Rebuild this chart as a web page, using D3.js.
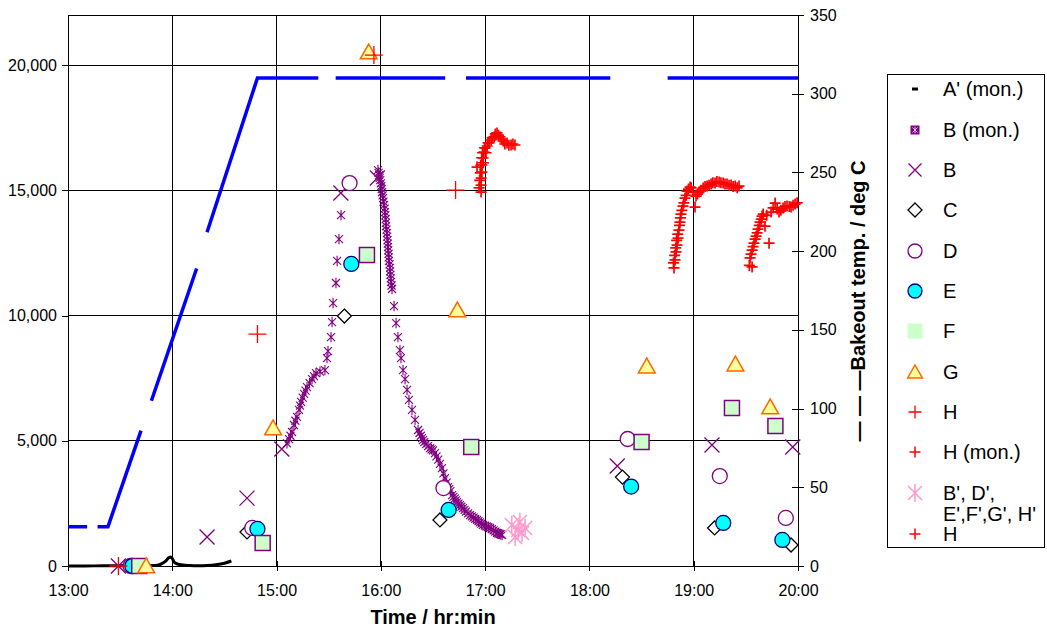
<!DOCTYPE html>
<html>
<head>
<meta charset="utf-8">
<script src="https://cdn.jsdelivr.net/npm/d3@7"></script>
<style>
body { margin: 0; background: #fff; }
svg { display: block; font-family: "Liberation Sans", Arial, sans-serif; }
</style>
</head>
<body>
<svg id="chart" width="1047" height="631"></svg>
<script>

// ---- data (times hh:mm[:ss], left axis = counts, right axis = deg C) ----
var aMonTimes = ["13:00","13:10","13:20","13:30","13:40","13:50","13:53","13:56","13:58","13:59","14:00","14:01","14:03","14:06","14:10","14:15","14:20","14:25","14:30","14:34"];
var aMonValues = [0,0,10,10,20,20,60,180,330,360,300,160,80,40,20,10,20,50,110,200];

var bMonTimes = ["15:06:00","15:07:10","15:08:00","15:08:55","15:10:00","15:10:50","15:11:45","15:12:55","15:13:30","15:14:05",
  "15:15:00","15:15:50","15:16:40","15:17:30","15:19:00","15:20:25","15:21:30","15:22:40","15:25:00",
  "15:27:50","15:29:00","15:29:35","15:31:20","15:31:55","15:32:30","15:34:10","15:34:50","15:35:55","15:37:05",
  "15:58:20","15:58:40","15:59:00","15:59:20","15:59:40","16:00:00","16:00:15","16:00:30","16:00:40","16:01:00",
  "16:01:15","16:01:30","16:01:50","16:02:10","16:02:25","16:02:35","16:02:45","16:02:55","16:03:00","16:03:15",
  "16:03:30","16:03:40","16:03:50","16:04:00","16:04:05","16:04:15","16:04:25","16:04:30","16:04:40","16:05:00",
  "16:05:15","16:05:20","16:05:30","16:05:40","16:05:50","16:06:10","16:06:25",
  "16:07:35","16:08:45","16:09:50","16:11:00","16:11:35","16:12:45","16:13:55","16:15:05","16:16:10","16:17:55","16:19:40",
  "16:21:25","16:22:15","16:23:00","16:23:40","16:24:15","16:25:00","16:26:00","16:27:10","16:28:20","16:29:10",
  "16:30:00","16:31:10","16:32:00","16:33:00","16:34:00","16:35:10","16:36:00","16:36:55","16:37:50","16:38:40",
  "16:39:20","16:40:00","16:41:00","16:41:45","16:42:30","16:43:10","16:43:50","16:44:40","16:45:30","16:46:20",
  "16:47:15","16:48:10","16:49:00","16:50:10","16:51:20","16:52:20","16:53:20","16:54:20","16:55:20","16:56:10",
  "16:57:00","16:57:50","16:58:45","16:59:50","17:00:50","17:01:50","17:02:50","17:03:50","17:04:50","17:05:50",
  "17:06:50","17:07:30","17:08:20","17:09:00","17:09:45"];
var bMonValues = [4900,5070,5200,5350,5630,5800,5950,6230,6400,6550,
  6720,6870,7000,7140,7300,7460,7580,7700,7760,
  7820,8300,8580,9140,9740,10500,11300,12180,13050,14010,
  15810,15700,15610,15500,15410,15280,15170,15050,14930,14800,
  14690,14550,14410,14270,14130,14000,13850,13700,13570,13430,
  13290,13150,13010,12870,12730,12600,12460,12320,12180,12040,
  11900,11760,11620,11480,11340,11200,11060,
  10380,9700,9140,8620,8300,7820,7460,7030,6630,6230,5830,
  5430,5310,5200,5110,5030,4950,4870,4790,4710,4660,
  4620,4510,4380,4250,4080,3910,3700,3510,3330,3150,
  3070,2990,2830,2760,2690,2620,2550,2490,2430,2370,
  2310,2240,2170,2100,2030,1980,1930,1880,1840,1790,
  1740,1690,1640,1610,1580,1550,1520,1470,1420,1370,
  1320,1300,1280,1260,1240];

var bTimes = ["13:29","14:20","14:43","15:03","15:37","15:58","18:16","19:10:30","19:57"];
var bValues = [0,1160,2710,4670,14890,15490,3990,4830,4750];

var cTimes = ["13:37","14:43","15:39","16:34","18:19","19:12","19:56"];
var cValues = [0,1360,9980,1840,3550,1520,840];

var dTimes = ["13:36","14:46","15:42","16:36","18:22","19:15","19:53"];
var dValues = [0,1520,15290,3110,5070,3590,1920];

var eTimes = ["13:37","14:49","15:43","16:39","18:24","19:17","19:51"];
var eValues = [0,1480,12060,2240,3170,1720,1040];

var fTimes = ["13:41","14:52","15:52","16:52","18:30","19:22","19:47"];
var fValues = [0,920,12420,4750,4950,6310,5590];

var gTimes = ["13:45","14:58","15:53","16:44","18:33","19:24","19:44"];
var gValues = [0,5510,20520,10220,7980,8060,6350];

var hTimes = ["13:29","14:49","15:56","16:43"];
var hValues = [0,9260,20400,15010];

var hMonTimes = ["16:55:20","16:56:30","16:56:50","16:57:10","16:57:30","16:57:40","16:57:40","16:57:40","16:58:00","16:58:10",
  "16:58:10","16:58:30","16:58:50","16:59:00","16:59:20","16:59:40","17:00:00","17:00:30","17:01:10","17:01:40",
  "17:02:15","17:03:25","17:04:00","17:05:10","17:05:50","17:06:50","17:07:40","17:08:35","17:09:20","17:10:20",
  "17:11:20","17:12:35","17:13:40","17:14:55","17:16:00","17:17:10",
  "18:48:20","18:48:40","18:49:00","18:49:15","18:49:40","18:49:50","18:50:10","18:50:25","18:50:50","18:51:00",
  "18:51:30","18:51:50","18:52:05","18:52:20","18:52:40","18:53:10","18:53:50","18:54:20","18:55:00","18:55:40",
  "18:56:10","18:57:00","18:57:55","18:58:30","18:59:40","19:00:45","19:01:20","19:02:10","19:03:05","19:04:10",
  "19:05:25","19:06:30","19:07:40","19:08:50","19:10:00","19:11:00","19:12:15","19:13:20","19:14:35","19:15:40",
  "19:16:55","19:18:00","19:19:10","19:20:20","19:21:30","19:22:40","19:23:50","19:25:00","19:26:05",
  "19:32:00","19:32:25","19:33:00","19:33:35","19:33:35","19:34:10","19:34:40","19:35:20","19:35:55","19:36:30",
  "19:37:00","19:37:40","19:38:10","19:38:50","19:39:20","19:40:00","19:41:00","19:42:00","19:43:20","19:44:30",
  "19:45:40","19:46:50","19:48:00","19:49:05","19:50:10","19:51:25","19:52:30","19:53:40","19:55:00","19:56:00",
  "19:57:10","19:58:20","19:59:30"];
var hMonValues = [15930,15100,15400,15700,16000,14930,15210,15490,16300,15730,
  16010,16500,16290,16100,16530,16700,16690,16500,16770,16900,
  16890,17010,17100,17130,17250,17290,17200,17130,17050,16970,
  16850,16890,16800,16810,16850,16810,
  12100,11900,12400,12220,12700,12540,13000,12810,13250,13090,
  13410,13600,13730,13900,14050,14200,14370,14500,14690,14800,
  14970,15050,15130,15100,14930,14330,14770,14850,14930,15000,
  15090,15150,15170,15200,15250,15300,15290,15350,15330,15300,
  15290,15250,15250,15200,15210,15150,15170,15100,15170,
  12000,12300,12450,11940,12610,12750,12890,13050,13170,13300,
  13450,13600,13730,13850,13970,14050,13570,14000,12890,14130,
  14300,14490,14250,14130,14200,14290,14350,14370,14350,14330,
  14400,14450,14500];

var primeTimes = ["17:15:20","17:17:15","17:19:00","17:20:00","17:21:15","17:23:00"];
var primeValues = [1640,1160,1440,1760,1320,1520];

// bakeout temperature (right axis); null = gap in the record
var tempTimes = ["13:00","13:11",null,"13:17","13:23","13:42",null,"13:48","14:14",null,"14:20","14:49","15:24",null,
  "15:34","16:37",null,"16:49","18:12",null,"18:45","20:00"];
var tempValues = [25,25,null,25,25,86,null,105,189,null,212,310,310,null,310,310,null,310,310,null,310,310];

var leftTicks = [0,5000,10000,15000,20000];
var rightTicks = [0,50,100,150,200,250,300,350];

// ---- helpers ----
function tm(s) {
  var p = s.split(":").map(Number);
  return new Date(2000, 0, 1, p[0], p[1], p[2] || 0);
}
function pts(times, vals) {
  return times.map(function (t, i) { return t === null ? null : { t: tm(t), v: vals[i] }; });
}

var svg = d3.select("#chart");
var x = d3.scaleTime().domain([tm("13:00"), tm("20:00")]).range([68, 798]);
var y = d3.scaleLinear().domain([0, 22000]).range([566, 15]);
var y2 = d3.scaleLinear().domain([0, 350]).range([566, 15]);

// marker shapes
function shape(type, s) {
  if (type === "x") return "M" + (-s) + "," + (-s) + "L" + s + "," + s + "M" + (-s) + "," + s + "L" + s + "," + (-s);
  if (type === "plus") return "M" + (-s) + ",0L" + s + ",0M0," + (-s) + "L0," + s;
  if (type === "star") return "M" + (-s) + "," + (-s) + "L" + s + "," + s + "M" + (-s) + "," + s + "L" + s + "," + (-s) + "M0," + (-s * 1.3) + "L0," + (s * 1.3);
  if (type === "diamond") return "M0," + (-s) + "L" + s + ",0L0," + s + "L" + (-s) + ",0Z";
  if (type === "square") return "M" + (-s) + "," + (-s) + "H" + s + "V" + s + "H" + (-s) + "Z";
  if (type === "triangle") return "M0," + (-s) + "L" + (s * 1.05) + "," + (s * 0.85) + "L" + (-s * 1.05) + "," + (s * 0.85) + "Z";
  if (type === "circle") return d3.symbol().type(d3.symbolCircle).size(Math.PI * s * s)();
  if (type === "dash") return "M-3,0H3";
}

var series = [
  { name: "B (mon.)", times: bMonTimes, vals: bMonValues, type: "star", size: 4, stroke: "#800080", fill: "none", sw: 1.1 },
  { name: "B", times: bTimes, vals: bValues, type: "x", size: 7.5, stroke: "#800080", fill: "none", sw: 1.3 },
  { name: "C", times: cTimes, vals: cValues, type: "diamond", size: 7, stroke: "#000", fill: "#fff", sw: 1.3 },
  { name: "D", times: dTimes, vals: dValues, type: "circle", size: 7.5, stroke: "#800080", fill: "#fff", sw: 1.3 },
  { name: "E", times: eTimes, vals: eValues, type: "circle", size: 7.5, stroke: "#000080", fill: "#00ffff", sw: 1.3 },
  { name: "F", times: fTimes, vals: fValues, type: "square", size: 7.5, stroke: "#800080", fill: "#ccffcc", sw: 1.5 },
  { name: "G", times: gTimes, vals: gValues, type: "triangle", size: 8, stroke: "#ff6600", fill: "#ffff99", sw: 1.5 },
  { name: "H", times: hTimes, vals: hValues, type: "plus", size: 9, stroke: "#ff0000", fill: "none", sw: 1.3 },
  { name: "H (mon.)", times: hMonTimes, vals: hMonValues, type: "plus", size: 5.5, stroke: "#ff0000", fill: "none", sw: 1.7 },
  { name: "prime", times: primeTimes, vals: primeValues, type: "star", size: 7, stroke: "#ff99cc", fill: "none", sw: 1.5 }
];

// ---- grid ----
var grid = svg.append("g").attr("shape-rendering", "crispEdges");
grid.selectAll(".hg").data(leftTicks.slice(1)).enter().append("line")
  .attr("x1", 68).attr("x2", 798)
  .attr("y1", function (d) { return y(d); }).attr("y2", function (d) { return y(d); })
  .attr("stroke", "#000");
var hours = x.ticks(d3.timeHour.every(1));
grid.selectAll(".vg").data(hours.slice(1, -1)).enter().append("line")
  .attr("x1", function (d) { return x(d); }).attr("x2", function (d) { return x(d); })
  .attr("y1", 15).attr("y2", 566)
  .attr("stroke", "#000");
grid.append("line").attr("x1", 68).attr("x2", 798).attr("y1", 15).attr("y2", 15).attr("stroke", "#000");

// ---- axes ----
var axL = svg.append("g").attr("transform", "translate(68,0)")
  .call(d3.axisLeft(y).tickValues(leftTicks).tickFormat(d3.format(",")).tickSize(6).tickSizeOuter(0));
axL.selectAll("text").attr("x", -11).style("font-size", "16px").style("fill", "#000");

var axR = svg.append("g").attr("transform", "translate(798,0)")
  .call(d3.axisRight(y2).tickValues(rightTicks).tickSize(6).tickSizeOuter(0));
axR.selectAll(".tick line").attr("x1", -6);
axR.selectAll("text").attr("x", 12).style("font-size", "16px").style("fill", "#000");
axR.select(".domain").attr("stroke-width", 1.6);

var axB = svg.append("g").attr("transform", "translate(0,566)")
  .call(d3.axisBottom(x).ticks(d3.timeHour.every(1)).tickFormat(d3.timeFormat("%H:%M")).tickSize(5).tickSizeOuter(0));
axB.selectAll(".tick line").attr("y1", -5);
axB.selectAll("text").attr("y", 19).style("font-size", "16px").style("fill", "#000");
svg.selectAll(".domain, .tick line").attr("stroke", "#000").attr("shape-rendering", "crispEdges");

svg.append("text").attr("x", 433).attr("y", 624).attr("text-anchor", "middle")
  .style("font-size", "20px").style("font-weight", "bold").text("Time / hr:min");
svg.append("text").attr("transform", "translate(865,301) rotate(-90)").attr("text-anchor", "middle")
  .style("font-size", "20px").style("font-weight", "bold").text("— — —Bakeout temp. / deg C");

// ---- A' monitor trace ----
svg.append("path").datum(pts(aMonTimes, aMonValues))
  .attr("fill", "none").attr("stroke", "#000").attr("stroke-width", 3)
  .attr("d", d3.line().curve(d3.curveMonotoneX).x(function (d) { return x(d.t); }).y(function (d) { return y(d.v); }));

// ---- markers ----
series.forEach(function (s) {
  svg.append("g").selectAll("path").data(pts(s.times, s.vals)).enter().append("path")
    .attr("transform", function (d) { return "translate(" + x(d.t) + "," + y(d.v) + ")"; })
    .attr("d", shape(s.type, s.size))
    .attr("fill", s.fill).attr("stroke", s.stroke).attr("stroke-width", s.sw);
});

// ---- bakeout temperature (right axis) ----
svg.append("path").datum(pts(tempTimes, tempValues))
  .attr("fill", "none").attr("stroke", "#0000ff").attr("stroke-width", 3.5)
  .attr("d", d3.line().defined(function (d) { return d !== null; })
    .x(function (d) { return x(d.t); }).y(function (d) { return y2(d.v); }));

// ---- legend ----
var lg = svg.append("g");
lg.append("rect").attr("x", 887.5).attr("y", 74.5).attr("width", 157).attr("height", 473)
  .attr("fill", "#fff").attr("stroke", "#000");
var legendRows = [
  { label: ["A' (mon.)"], y: 89, m: { type: "dash", size: 3, stroke: "#000", fill: "none", sw: 3 } },
  { label: ["B (mon.)"], y: 130, m: null },
  { label: ["B"], y: 170, m: series[1] },
  { label: ["C"], y: 210, m: series[2] },
  { label: ["D"], y: 251, m: series[3] },
  { label: ["E"], y: 291, m: series[4] },
  { label: ["F"], y: 331, m: { type: "square", size: 7, stroke: "#ccffcc", fill: "#ccffcc", sw: 1 } },
  { label: ["G"], y: 372, m: series[6] },
  { label: ["H"], y: 412, m: series[7] },
  { label: ["H (mon.)"], y: 452, m: series[8] },
  { label: ["B', D',", "E',F',G', H'"], y: 493, m: series[9] },
  { label: ["H"], y: 534, m: series[8] }
];
legendRows.forEach(function (r) {
  if (r.m) {
    var sz = r.m.type === "plus" || r.m.type === "x" ? Math.min(r.m.size, 6.5) : Math.min(r.m.size, 7);
    lg.append("path").attr("transform", "translate(915," + r.y + ")")
      .attr("d", shape(r.m.type, sz))
      .attr("fill", r.m.fill).attr("stroke", r.m.stroke)
      .attr("stroke-width", r.m.type === "dash" ? 3 : Math.min(r.m.sw, 1.5));
  } else {
    lg.append("rect").attr("x", 911).attr("y", r.y - 4).attr("width", 8).attr("height", 8)
      .attr("fill", "#800080").attr("stroke", "#800080");
    lg.append("path").attr("transform", "translate(915," + r.y + ")").attr("d", shape("star", 2.6))
      .attr("stroke", "#e6c8e6").attr("stroke-width", 0.9).attr("fill", "none");
  }
  r.label.forEach(function (l, i) {
    lg.append("text").attr("x", 943).attr("y", r.y + 7 + i * 21)
      .style("font-size", "20px").text(l);
  });
});
</script>
</body>
</html>
